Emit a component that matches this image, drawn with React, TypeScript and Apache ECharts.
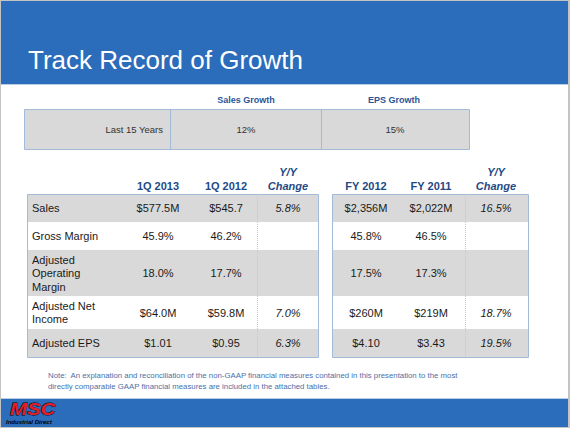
import React, { useEffect, useRef } from "react";
import * as echarts from "echarts";

const titleText = "Track Record of Growth";
const growthHeaders = ["Sales Growth", "EPS Growth"];
const growthPeriod = "Last 15 Years";
const growthValues = ["12%", "15%"];
const rowLabels = ["Sales", "Gross Margin", "Adjusted\nOperating\nMargin", "Adjusted Net\nIncome", "Adjusted EPS"];
const quarterHeaders = ["1Q 2013", "1Q 2012"];
const yearHeaders = ["FY 2012", "FY 2011"];
const changeHeader = "Y/Y\nChange";
const q2013 = ["$577.5M", "45.9%", "18.0%", "$64.0M", "$1.01"];
const q2012 = ["$545.7", "46.2%", "17.7%", "$59.8M", "$0.95"];
const qChange = ["5.8%", "", "", "7.0%", "6.3%"];
const fy2012 = ["$2,356M", "45.8%", "17.5%", "$260M", "$4.10"];
const fy2011 = ["$2,022M", "46.5%", "17.3%", "$219M", "$3.43"];
const fyChange = ["16.5%", "", "", "18.7%", "19.5%"];
const noteLines = [
  "Note:  An explanation and reconciliation of the non-GAAP financial measures contained in this presentation to the most",
  "directly comparable GAAP financial measures are included in the attached tables.",
];
const logoName = "MSC";
const logoSub = "Industrial Direct";

const FONT = "Liberation Sans, Arial, sans-serif";
const BLUE = "#2b6cbb";
const GRAY = "#d9d9d9";
const EDGE = "#a3bbdb";
const HEAD = "#1f4a86";

export default function App() {
  const ref = useRef<HTMLDivElement>(null);
  useEffect(() => {
    document.body.style.margin = "0";
    const chart = echarts.init(ref.current!, undefined, { renderer: "svg" });
    const els: any[] = [];
    const mkText = (x: number, y: number, text: string, o: any = {}) => ({
      type: "text",
      x: o.gx || 0,
      y: o.gy || 0,
      scaleX: o.sx || 1,
      style: {
        x, y, text,
        fill: o.fill || "#1a1a1a",
        fontSize: o.size || 11,
        fontFamily: FONT,
        fontWeight: o.weight || "normal",
        fontStyle: o.style || "normal",
        textAlign: o.align || "center",
        textVerticalAlign: "middle",
        lineHeight: o.lh || 13.5,
        stroke: o.stroke,
        lineWidth: o.lw || 0,
      },
      z: 10,
    });
    const txt = (x: number, y: number, text: string, o: any = {}) => els.push(mkText(x, y, text, o));
    const rect = (x: number, y: number, w: number, h: number, fill: string, stroke?: string) =>
      els.push({ type: "rect", shape: { x, y, width: w, height: h }, style: { fill, stroke: stroke || null, lineWidth: 1 }, z: 2 });
    const line = (x1: number, y1: number, x2: number, y2: number, stroke: string, dash?: number[]) =>
      els.push({ type: "line", shape: { x1, y1, x2, y2 }, style: { stroke, lineWidth: 1, lineDash: dash || null }, z: 5 });

    // frame
    rect(0, 0, 570, 428, "#c4c4c4");
    rect(1, 1, 567, 426, "#ffffff");
    rect(1, 1, 567, 83, BLUE);
    line(1, 84.5, 568, 84.5, "#b9cce6");
    rect(1, 399, 567, 28, BLUE);
    line(1, 398.5, 568, 398.5, "#b9cce6");
    txt(28, 60, titleText, { fill: "#ffffff", size: 26, align: "left" });

    // growth table
    const gCols = [24, 170, 321, 469];
    txt(246, 100, growthHeaders[0], { fill: "#2a5597", size: 9, weight: "bold" });
    txt(394, 100, growthHeaders[1], { fill: "#2a5597", size: 9, weight: "bold" });
    rect(gCols[0] + 0.5, 109.5, gCols[3] - gCols[0], 40, GRAY, EDGE);
    line(gCols[1] + 0.5, 109.5, gCols[1] + 0.5, 149.5, EDGE);
    line(gCols[2] + 0.5, 109.5, gCols[2] + 0.5, 149.5, EDGE);
    txt(163, 129, growthPeriod, { size: 9.5, align: "right", fill: "#333333" });
    txt(246, 129, growthValues[0], { size: 9.5, fill: "#333333" });
    txt(395, 129, growthValues[1], { size: 9.5, fill: "#333333" });

    // main tables
    const rowEdges = [194, 222, 250, 296, 329, 357];
    const tables = [
      { x0: 27, x1: 318, cols: [158, 226, 288], div: 257, heads: quarterHeaders, data: [q2013, q2012, qChange] },
      { x0: 332, x1: 528, cols: [366, 431, 496], div: 465, heads: yearHeaders, data: [fy2012, fy2011, fyChange] },
    ];
    tables.forEach((t, ti) => {
      for (let r = 0; r < rowLabels.length; r++) {
        const y0 = rowEdges[r], y1 = rowEdges[r + 1];
        rect(t.x0, y0, t.x1 - t.x0, y1 - y0, r % 2 === 0 ? GRAY : "#ffffff");
        const cy = (y0 + y1) / 2;
        if (ti === 0) txt(32, cy, rowLabels[r], { align: "left" });
        t.data.forEach((col, ci) => {
          if (col[r]) txt(t.cols[ci], cy, col[r], { style: ci === 2 ? "italic" : "normal" });
        });
      }
      els.push({
        type: "rect",
        shape: { x: t.x0 + 0.5, y: rowEdges[0] + 0.5, width: t.x1 - t.x0, height: rowEdges[5] - rowEdges[0] },
        style: { fill: "none", stroke: EDGE, lineWidth: 1 }, z: 6,
      });
      line(t.div + 0.5, rowEdges[0], t.div + 0.5, rowEdges[5], "#b7c9e2", [1, 1]);
      txt(t.cols[0], 186, t.heads[0], { fill: HEAD, weight: "bold" });
      txt(t.cols[1], 186, t.heads[1], { fill: HEAD, weight: "bold" });
      txt(t.cols[2], 179, changeHeader, { fill: HEAD, weight: "bold", style: "italic", lh: 14 });
    });

    // note
    txt(48, 375, noteLines[0], { align: "left", size: 7.8, fill: "#4a6fa8" });
    txt(48, 386, noteLines[1], { align: "left", size: 7.8, fill: "#4a6fa8" });

    // logo
    txt(0, 0, logoName, { gx: 10, gy: 409, sx: 1.2, align: "left", size: 17, weight: "900", style: "italic", fill: "#e3202a", stroke: "#000000", lw: 0.8, lh: 17 });
    txt(6, 422, logoSub, { align: "left", size: 6, weight: "bold", style: "italic", fill: "#000000", lh: 6 });

    chart.setOption({ animation: false, graphic: { elements: els } });
    return () => chart.dispose();
  }, []);
  return <div ref={ref} style={{ width: 570, height: 428 }} />;
}
